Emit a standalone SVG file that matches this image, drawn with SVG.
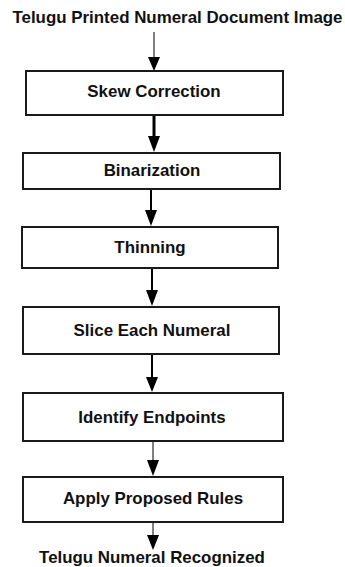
<svg xmlns="http://www.w3.org/2000/svg" width="345" height="567" viewBox="0 0 345 567">
<defs>
<style>
.box{fill:#fff;stroke:#1a1a1a;stroke-width:2}
.t{font-family:"Liberation Sans",Arial,sans-serif;font-weight:bold;font-size:16.9px;fill:#111;text-anchor:middle}
.c{stroke:#000;fill:none}
</style>
<marker id="ah" markerWidth="12" markerHeight="15" refX="6" refY="15" orient="auto-start-reverse" markerUnits="userSpaceOnUse" viewBox="0 0 12 15">
<path d="M0,0 L12,0 L6,15 Z" fill="#000"/>
</marker>
</defs>
<rect width="345" height="567" fill="#fff"/>
<g id="connectors">
<path class="c" d="M154,32 V57" stroke-width="1"/>
<path d="M148,57 H160 L154,71 Z" fill="#000"/>
<path class="c" d="M154,115 V136" stroke-width="3" stroke="#333"/>
<path d="M148,136 H160 L154,152 Z" fill="#000"/>
<path class="c" d="M151,189 V210" stroke-width="2"/>
<path d="M145,210 H157 L151,226 Z" fill="#000"/>
<path class="c" d="M152,268 V290" stroke-width="2"/>
<path d="M146,290 H158 L152,306 Z" fill="#000"/>
<path class="c" d="M152,354 V377" stroke-width="2"/>
<path d="M146,377 H158 L152,392 Z" fill="#000"/>
<path class="c" d="M153,441 V460" stroke-width="1"/>
<path d="M147,460 H159 L153,476 Z" fill="#000"/>
<path class="c" d="M153,522 V535" stroke-width="1"/>
<path d="M147,535 H159 L153,550 Z" fill="#000"/>
</g>
<g id="input"><text class="t" x="177.5" y="23">Telugu Printed Numeral Document Image</text></g>
<g id="skew"><rect class="box" x="26" y="71" width="257" height="44"/><text class="t" x="154" y="97">Skew Correction</text></g>
<g id="binarization"><rect class="box" x="23" y="153" width="257" height="36"/><text class="t" x="152" y="176">Binarization</text></g>
<g id="thinning"><rect class="box" x="22" y="227" width="256" height="41"/><text class="t" x="150" y="253">Thinning</text></g>
<g id="slice"><rect class="box" x="23" y="307" width="256" height="47"/><text class="t" x="152" y="336">Slice Each Numeral</text></g>
<g id="endpoints"><rect class="box" x="23" y="393" width="260" height="48"/><text class="t" x="152" y="423">Identify Endpoints</text></g>
<g id="rules"><rect class="box" x="23" y="477" width="260" height="45"/><text class="t" x="153" y="504">Apply Proposed Rules</text></g>
<g id="output"><text class="t" x="152" y="563">Telugu Numeral Recognized</text></g>
</svg>
